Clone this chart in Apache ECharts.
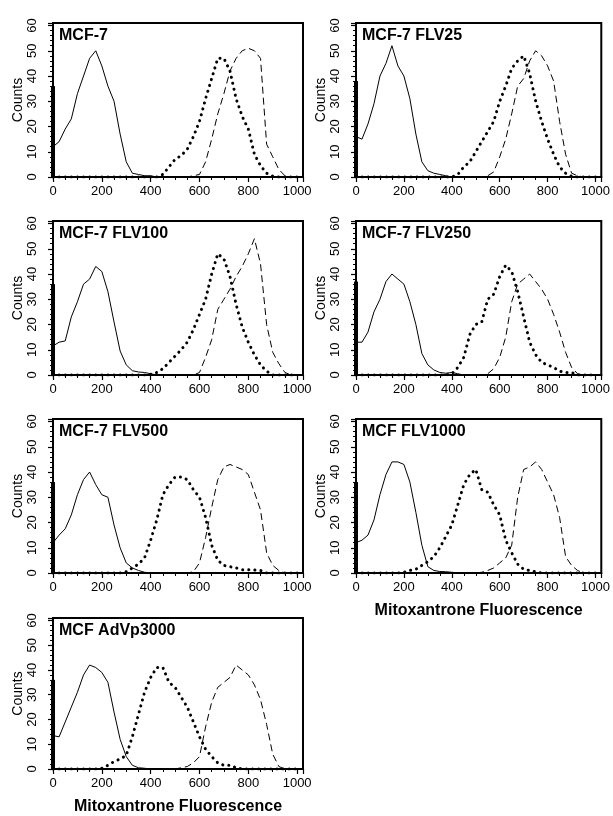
<!DOCTYPE html>
<html><head><meta charset="utf-8">
<script src="https://cdn.jsdelivr.net/npm/echarts@6/dist/echarts.min.js"></script>
<style>html,body{margin:0;padding:0;background:#fff}#c{width:613px;height:816px}</style>
</head><body><div id="c"></div>
<script>
// Fluorescence channels (x values)
const channels = [0,25,50,75,100,125,150,175,200,225,250,275,300,325,350,375,400,425,450,475,500,525,550,575,600,625,650,675,700,725,750,775,800,825,850,875,900,925,950,975,1000];
const panelTitles = ['MCF-7','MCF-7 FLV25','MCF-7 FLV100','MCF-7 FLV250','MCF-7 FLV500','MCF FLV1000','MCF AdVp3000'];
const xAxisTitle = 'Mitoxantrone Fluorescence';
const yAxisTitle = 'Counts';
const xTickLabels = [0,200,400,600,800,1000];
const yTickLabels = [0,10,20,30,40,50,60];
// counts piled in channel 0 (thick bar at left edge)
const edgeCounts = [36,38,36,37,36,36,36];

const mcf7Solid  = [12,14,19,23,33, 40,47,50,44,36, 30,17,6,1.5,1, 0.5,0.5,0,0,0, 0,0,0,0,0, 0,0,0,0,0, 0,0,0,0,0, 0,0,0,0,0, 0];
const mcf7Dotted = [0,0,0,0,0, 0,0,0,0,0, 0,0,0,0,0, 0,0,0,1,4, 7,8.5,11,16,22, 31,39,47,47,42, 31,24,19,9,4.5, 1.5,0.3,0,0,0, 0];
const mcf7Dashed = [0,0,0,0,0, 0,0,0,0,0, 0,0,0,0,0, 0,0,0,0,0, 0,0,0,0.5,1, 6,15,25,33,42, 47,50,51,50,47, 13,8,3,0.5,0, 0];

const flv25Solid  = [16,15,21,29,40, 45,52,44,40,31, 17,6,2.5,1.5,1, 0.5,0,0,0,0, 0,0,0,0,0, 0,0,0,0,0, 0,0,0,0,0, 0,0,0,0,0, 0];
const flv25Dotted = [0,0,0,0,0, 0,0,0,0,0, 0,0,0,0,0, 0,0,1,4,6, 10,14,18,22,30, 36,43,46,48,41, 30,22,15,9,4, 1.5,0.3,0,0,0, 0];
const flv25Dashed = [0,0,0,0,0, 0,0,0,0,0, 0,0,0,0,0, 0,0,0,0,0, 0,0,0.5,2,8, 15,25,36,39,46, 50,48,44,38,22, 9,1.5,0.5,0,0, 0];

const flv100Solid  = [11.5,13,13.5,23,29, 36,38,43,41,33, 21,9.5,4,1.7,1.2, 1,0.5,0,0,0, 0,0,0,0,0, 0,0,0,0,0, 0,0,0,0,0, 0,0,0,0,0, 0];
const flv100Dotted = [0,0,0,0,0, 0,0,0,0,0, 0,0,0,0,0, 0,0.3,1,2.5,5, 7.5,10,13,18,24, 30,40,48,46,39, 28,19,13,8,4, 1.5,0,0,0,0, 0];
const flv100Dashed = [0,0,0,0,0, 0,0,0,0,0, 0,0,0,0,0, 0,0,0,0,0, 0,0,0,0,1, 7,14,26,30,34, 39,43,48,54,44, 20,9,4.5,1,0, 0];

const flv250Solid  = [13,13,17,25,30, 37,40,38,36,29, 20,8.5,4,2,1, 0.7,1,0.5,0,0, 0,0,0,0,0, 0,0,0,0,0, 0,0,0,0,0, 0,0,0,0,0, 0];
const flv250Dotted = [0,0,0,0,0, 0,0,0,0,0, 0,0,0,0,0, 0,0.5,3,7,16, 20,21,30,32,39, 43.5,41,33,23,13, 8,5,4,3,1.5, 1,1,0,0,0, 0];
const flv250Dashed = [0,0,0,0,0, 0,0,0,0,0, 0,0,0,0,0, 0,0,0,0,0, 0,0,0.5,2.5,7, 15,29,36,38,40, 37,34,30,24,17, 9,3,0.5,0,0, 0];

const flv500Solid  = [12,15,17.5,23,31, 37,40,35,31,30, 19,10,4,2,1, 0.3,0,0,0,0, 0,0,0,0,0, 0,0,0,0,0, 0,0,0,0,0, 0,0,0,0,0, 0];
const flv500Dotted = [0,0,0,0,0, 0,0,0,0,0, 0,0,0.5,2,3.5, 6,13,21,31,35, 38,38,37,33,30, 22,11,5,3,2.5, 2,1.3,1.3,1.2,1, 0,0,0,0,0, 0];
const flv500Dashed = [0,0,0,0,0, 0,0,0,0,0, 0,0,0,0,0, 0,0,0,0,0, 0,0,0,0.5,4, 14,26,37,42,43, 42,41,39,32,25, 8,3,1,0,0, 0];

const flv1000Solid  = [12,13,15,21,31, 39,44,44,43,36, 24,11,2.5,1,0.6, 0.5,0.3,0,0,0, 0,0,0,0,0, 0,0,0,0,0, 0,0,0,0,0, 0,0,0,0,0, 0];
const flv1000Dotted = [0,0,0,0,0, 0,0,0,0.3,1, 1.5,3,4.5,6.5,10, 14.5,19,27,35,39, 41,33,32,27,23, 13,8,3.5,1.5,1, 0.5,0,0,0,0, 0,0,0,0,0, 0];
const flv1000Dashed = [0,0,0,0,0, 0,0,0,0,0, 0,0,0,0,0, 0,0,0,0,0, 0,0.3,1,2,4, 6,11,30,41,42, 44,41,36,31,22, 6.5,3,1,0,0, 0];

const advp3000Solid  = [13.5,13,19,25,31, 38,42,41,39,35, 23,12,5,1.5,0.5, 0.3,0,0,0,0, 0,0,0,0,0, 0,0,0,0,0, 0,0,0,0,0, 0,0,0,0,0, 0];
const advp3000Dotted = [0,0,0,0,0, 0,0,0,0.3,1.5, 3,4,5.5,13,22, 31,37,41,41,35, 33,29,25,19,13, 8,5,2.5,1.5,1.5, 0.5,0,0,0,0, 0,0,0,0,0, 0];
const advp3000Dashed = [0,0,0,0,0, 0,0,0,0,0, 0,0,0,0,0, 0,0,0,0,0, 0,0.5,1,2.5,5, 17,27,33,35,37, 42,40,38,34,28, 18,6,1,0,0, 0];

const panels = [
  {title: panelTitles[0], solid: mcf7Solid, dotted: mcf7Dotted, dashed: mcf7Dashed, edge: edgeCounts[0]},
  {title: panelTitles[1], solid: flv25Solid, dotted: flv25Dotted, dashed: flv25Dashed, edge: edgeCounts[1]},
  {title: panelTitles[2], solid: flv100Solid, dotted: flv100Dotted, dashed: flv100Dashed, edge: edgeCounts[2]},
  {title: panelTitles[3], solid: flv250Solid, dotted: flv250Dotted, dashed: flv250Dashed, edge: edgeCounts[3]},
  {title: panelTitles[4], solid: flv500Solid, dotted: flv500Dotted, dashed: flv500Dashed, edge: edgeCounts[4]},
  {title: panelTitles[5], solid: flv1000Solid, dotted: flv1000Dotted, dashed: flv1000Dashed, edge: edgeCounts[5]},
  {title: panelTitles[6], solid: advp3000Solid, dotted: advp3000Dotted, dashed: advp3000Dashed, edge: edgeCounts[6]}
];

// layout: [left, top, width]
const layout = [[53,23,250],[356,23,248],[53,221,250],[356,221,248],[53,419,250],[356,419,248],[53,618,250]];
const PH = 154;
const FONT = '"Liberation Sans", Arial, Helvetica, sans-serif';

const option = {animation:false, textStyle:{fontFamily:FONT}, title:[], grid:[], xAxis:[], yAxis:[], series:[]};
const pairs = arr => channels.map((c,k)=>[c, arr[k]]);

panels.forEach((p,i)=>{
  const [l,t,w] = layout[i];
  option.grid.push({left:l, top:t, width:w, height:PH, show:true, borderColor:'#000', borderWidth:2, backgroundColor:'transparent'});
  option.title.push({text:p.title, left:l+6, top:t+5, padding:0, textStyle:{fontSize:16, fontWeight:'bold', color:'#000', fontFamily:FONT}});
  option.xAxis.push({
    type:'value', gridIndex:i, min:0, max:1024, interval:200,
    name: i>=5 ? xAxisTitle : '', nameLocation:'middle', nameGap:30,
    nameTextStyle:{fontSize:16, fontWeight:'bold', color:'#000', fontFamily:FONT},
    axisLine:{lineStyle:{color:'#000', width:2}},
    axisTick:{show:true, length:5, lineStyle:{color:'#000', width:1.2}},
    minorTick:{show:true, splitNumber:4, length:3, lineStyle:{color:'#000', width:1}},
    splitLine:{show:false},
    axisLabel:{color:'#000', fontSize:13, margin:8, fontFamily:FONT, formatter: v => xTickLabels.includes(v) ? String(v) : ''}
  });
  option.yAxis.push({
    type:'value', gridIndex:i, min:0, max:61, interval:10,
    name: yAxisTitle, nameLocation:'middle', nameGap:28, nameRotate:90,
    nameTextStyle:{fontSize:14, color:'#000', fontFamily:FONT},
    axisLine:{lineStyle:{color:'#000', width:2}},
    axisTick:{show:true, length:5, lineStyle:{color:'#000', width:1.2}},
    minorTick:{show:true, splitNumber:5, length:3, lineStyle:{color:'#000', width:1}},
    splitLine:{show:false},
    axisLabel:{color:'#000', fontSize:13, margin:14, rotate:90, fontFamily:FONT, formatter: v => yTickLabels.includes(v) ? String(v) : ''}
  });
  option.series.push({type:'line', xAxisIndex:i, yAxisIndex:i, data:[[0,0],[0,p.edge]], showSymbol:false, lineStyle:{color:'#000', width:4}, z:3});
  option.series.push({type:'line', xAxisIndex:i, yAxisIndex:i, data:pairs(p.solid), showSymbol:false, lineStyle:{color:'#000', width:1}});
  option.series.push({type:'line', xAxisIndex:i, yAxisIndex:i, data:pairs(p.dotted), showSymbol:false, lineStyle:{color:'#000', width:3, type:[0.1,6], cap:'round'}});
  option.series.push({type:'line', xAxisIndex:i, yAxisIndex:i, data:pairs(p.dashed), showSymbol:false, lineStyle:{color:'#000', width:1, type:[7,4]}});
});

const chart = echarts.init(document.getElementById('c'), null, {renderer:'canvas'});
chart.setOption(option);
</script>
</body></html>
